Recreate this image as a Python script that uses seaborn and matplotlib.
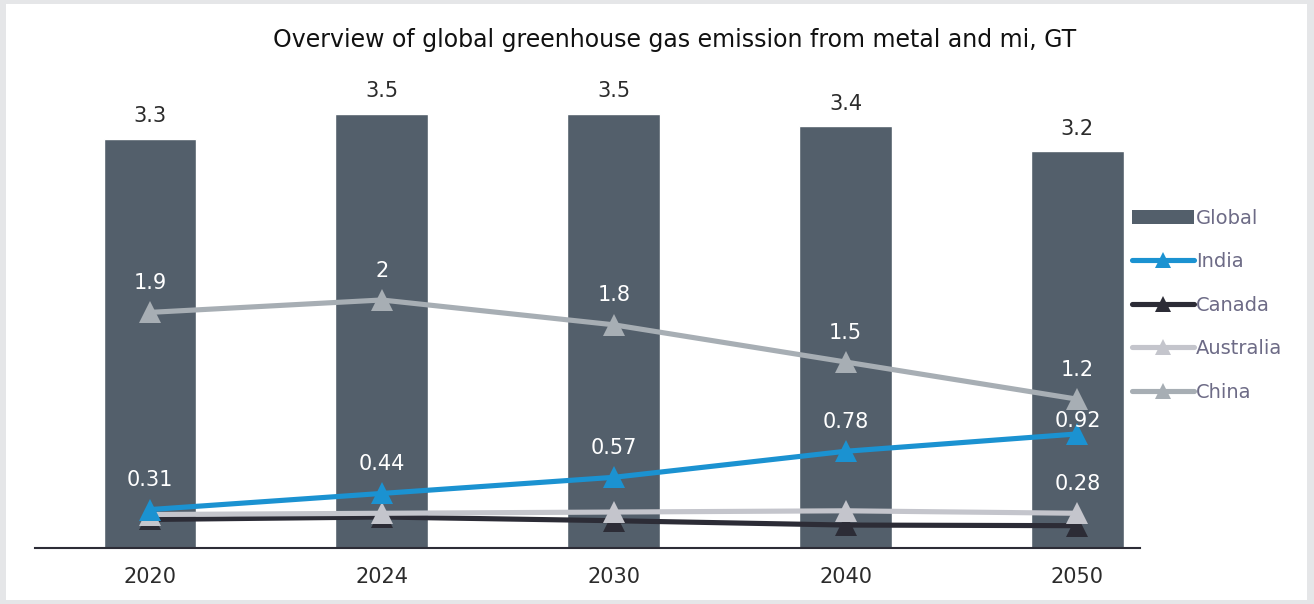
import numpy as np
import pandas as pd
import matplotlib
matplotlib.use("Agg")
import matplotlib.pyplot as plt
from matplotlib.patches import Rectangle, Patch
from matplotlib.lines import Line2D
import seaborn as sns

years = ["2020", "2024", "2030", "2040", "2050"]
global_vals = [3.3, 3.5, 3.5, 3.4, 3.2]
india = [0.31, 0.44, 0.57, 0.78, 0.92]
canada = [0.23, 0.25, 0.22, 0.185, 0.18]
australia = [0.27, 0.28, 0.29, 0.30, 0.28]
china = [1.9, 2.0, 1.8, 1.5, 1.2]

sns.set_theme(style="white")
plt.rcParams["font.family"] = ["DejaVu Sans"]

BAR = "#535f6b"
COLORS = {"India": "#1b92d1", "Canada": "#2c2c36",
          "Australia": "#c4c5cc", "China": "#a7aeb4"}

fig = plt.figure(figsize=(13.14, 6.04), dpi=100, facecolor="#e5e6e8")
fig.patches.append(Rectangle((6 / 1314, 0.006), 1301 / 1314, 0.988,
                             transform=fig.transFigure, facecolor="white",
                             edgecolor="none", zorder=-10))

ax = fig.add_axes([35 / 1314, 56 / 604, 1105 / 1314, 468 / 604])
ax.set_facecolor("none")
ax.set_zorder(5)

df_bar = pd.DataFrame({"year": years, "value": global_vals})
sns.barplot(data=df_bar, x="year", y="value", color=BAR, width=0.4,
            saturation=1, ax=ax, zorder=1)

x = np.arange(len(years))
series = [("Canada", canada), ("Australia", australia),
          ("India", india), ("China", china)]
for z, (name, vals) in enumerate(series):
    sns.lineplot(x=x, y=vals, color=COLORS[name], linewidth=3.7,
                 marker="^", markersize=16, markeredgewidth=0,
                 ax=ax, zorder=3 + z)

# value labels on the bars
for xi, v in zip(x, global_vals):
    ax.annotate(f"{v:g}", (xi, v), xytext=(0, 9), textcoords="offset points",
                ha="center", va="bottom", fontsize=15, color="#2b2b2b")

# value labels for the lines
for xi, v in zip(x, china):
    ax.annotate(f"{v:g}", (xi, v), xytext=(0, 14), textcoords="offset points",
                ha="center", va="bottom", fontsize=15, color="white", zorder=10)
india_offsets = [14, 14, 14, 14, 2]
for xi, v, off in zip(x, india, india_offsets):
    ax.annotate(f"{v:g}", (xi, v), xytext=(0, off), textcoords="offset points",
                ha="center", va="bottom", fontsize=15, color="white", zorder=10)
ax.annotate(f"{australia[-1]:g}", (x[-1], australia[-1]), xytext=(0, 14),
            textcoords="offset points", ha="center", va="bottom",
            fontsize=15, color="white", zorder=10)

ax.set_xlim(-0.496, 4.27)
ax.set_ylim(0, 3.774)
ax.set_xlabel("")
ax.set_ylabel("")
ax.set_yticks([])
ax.tick_params(axis="x", length=0, labelsize=15, colors="#2b2b2b", pad=14)
for s in ["top", "right", "left"]:
    ax.spines[s].set_visible(False)
ax.spines["bottom"].set_color("#2c2c36")
ax.spines["bottom"].set_linewidth(1.5)

fig.text(675 / 1314, 1 - 40 / 604,
         "Overview of global greenhouse gas emission from metal and mi, GT",
         ha="center", va="center", fontsize=17, color="#111111")

handles = [Patch(facecolor=BAR, edgecolor="none")]
labels = ["Global"]
for name in ["India", "Canada", "Australia", "China"]:
    handles.append(Line2D([0], [0], color=COLORS[name], linewidth=3.7,
                          marker="^", markersize=11, markeredgewidth=0))
    labels.append(name)
leg = fig.legend(handles, labels, loc="upper left",
                 bbox_to_anchor=(1124 / 1314, 1 - 201 / 604),
                 frameon=False, fontsize=14, handlelength=3.2,
                 handleheight=0.8, handletextpad=0.1, labelspacing=1.26,
                 borderaxespad=0)
for t in leg.get_texts():
    t.set_color("#6d6b86")

fig.savefig("out.png", dpi=100, facecolor=fig.get_facecolor())
